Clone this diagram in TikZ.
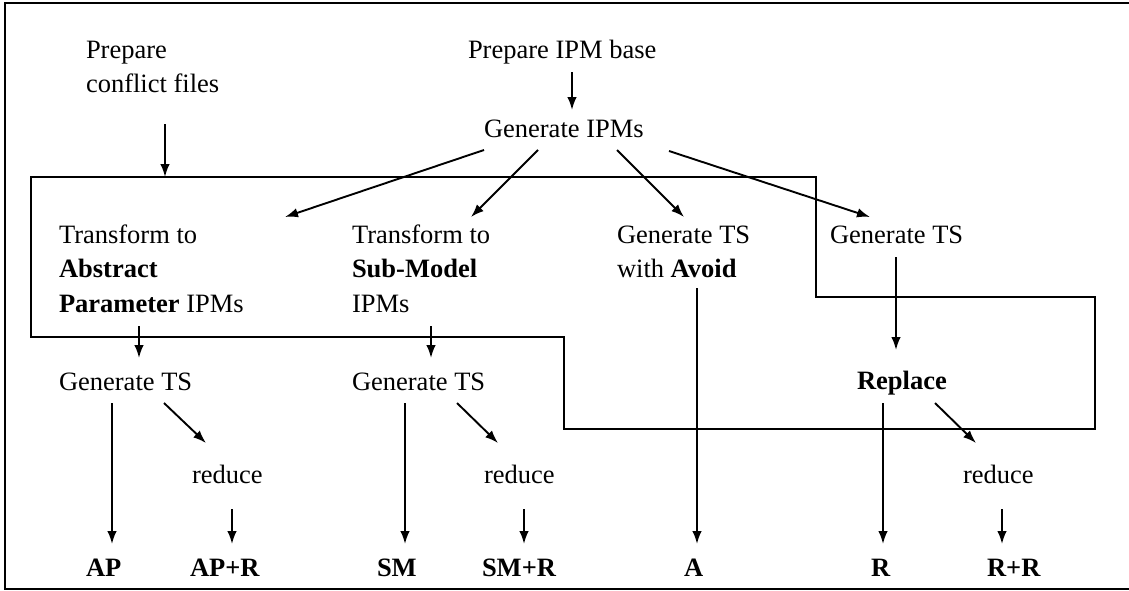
\documentclass[tikz,border=0pt]{standalone}
\usepackage{fontspec}
\setmainfont{Liberation Serif}
\usetikzlibrary{arrows.meta}
% multi-line label whose reference point is the baseline of its first line
\newcommand\stacklines[1]{\parbox[t]{8cm}{\raggedright #1}}
\begin{document}
\begin{tikzpicture}[x=1pt,y=-1pt,
  every node/.style={font=\fontsize{26.5}{34.5}\selectfont,
    inner sep=0pt, outer sep=0pt, anchor=base west},
  arr/.style={draw, line width=1.9pt, -{Latex[length=13pt,width=9.5pt]}},
  edge line/.style={line width=1.9pt, line join=miter}]
\useasboundingbox (0,0) rectangle (1129,590);

% open frame (no right side)
\draw[edge line] (1129,3) -- (5,3) -- (5,589) -- (1129,589);

% outline of the transformation/generation region
\draw[edge line] (31,177) -- (816,177) -- (816,297) -- (1095,297)
  -- (1095,429) -- (564,429) -- (564,337) -- (31,337) -- cycle;
\coordinate (regtop) at (165,177);

% labels
\node (pc) at (86,58)   {\stacklines{Prepare\\conflict files}};
\node (pb) at (468,58)  {Prepare IPM base};
\node (gi) at (484,137) {Generate IPMs};
\node (ta) at (59,243)  {\stacklines{Transform to\\\textbf{Abstract}\\\textbf{Parameter} IPMs}};
\node (ts) at (352,243) {\stacklines{Transform to\\\textbf{Sub-Model}\\IPMs}};
\node (ga) at (617,243) {\stacklines{Generate TS\\with \textbf{Avoid}}};
\node (gr) at (830,243) {Generate TS};
\node (g1) at (59,390)  {Generate TS};
\node (g2) at (352,390) {Generate TS};
\node (rp) at (857,389) {\textbf{Replace}};
\node (r1) at (192,483) {reduce};
\node (r2) at (484,483) {reduce};
\node (r3) at (963,483) {reduce};
\node (ap)  at (86,576)  {\textbf{AP}};
\node (apr) at (190,576) {\textbf{AP+R}};
\node (sm)  at (377,576) {\textbf{SM}};
\node (smr) at (482,576) {\textbf{SM+R}};
\node (a)   at (684,576) {\textbf{A}};
\node (r)   at (871,576) {\textbf{R}};
\node (rr)  at (987,576) {\textbf{R+R}};

% connectors
\draw[arr] ([shift={(79,66)}]pc.base west) -- (regtop);
\draw[arr] ([shift={(104,14)}]pb.base west) -- ([shift={(88,-27)}]gi.base west);
\draw[arr] ([shift={(0,13)}]gi.base west)   -- ([shift={(226,-26)}]ta.base west);
\draw[arr] ([shift={(54,13)}]gi.base west)  -- ([shift={(119,-26)}]ts.base west);
\draw[arr] ([shift={(133,13)}]gi.base west) -- ([shift={(67,-26)}]ga.base west);
\draw[arr] ([shift={(185,14)}]gi.base west) -- ([shift={(40,-26)}]gr.base west);
\draw[arr] ([shift={(80,83)}]ta.base west)  -- ([shift={(80,-32)}]g1.base west);
\draw[arr] ([shift={(79,83)}]ts.base west)  -- ([shift={(79,-32)}]g2.base west);
\draw[arr] ([shift={(80,45)}]ga.base west)  -- ([shift={(13,-32)}]a.base west);
\draw[arr] ([shift={(66,14)}]gr.base west)  -- ([shift={(39,-39)}]rp.base west);
\draw[arr] ([shift={(53,13)}]g1.base west)  -- ([shift={(26,-32)}]ap.base west);
\draw[arr] ([shift={(105,13)}]g1.base west) -- ([shift={(14,-40)}]r1.base west);
\draw[arr] ([shift={(40,26)}]r1.base west)  -- ([shift={(42,-32)}]apr.base west);
\draw[arr] ([shift={(53,13)}]g2.base west)  -- ([shift={(28,-32)}]sm.base west);
\draw[arr] ([shift={(105,13)}]g2.base west) -- ([shift={(14,-40)}]r2.base west);
\draw[arr] ([shift={(40,26)}]r2.base west)  -- ([shift={(42,-32)}]smr.base west);
\draw[arr] ([shift={(26,14)}]rp.base west)  -- ([shift={(12,-32)}]r.base west);
\draw[arr] ([shift={(78,14)}]rp.base west)  -- ([shift={(13,-40)}]r3.base west);
\draw[arr] ([shift={(39,26)}]r3.base west)  -- ([shift={(15,-32)}]rr.base west);
\end{tikzpicture}
\end{document}
